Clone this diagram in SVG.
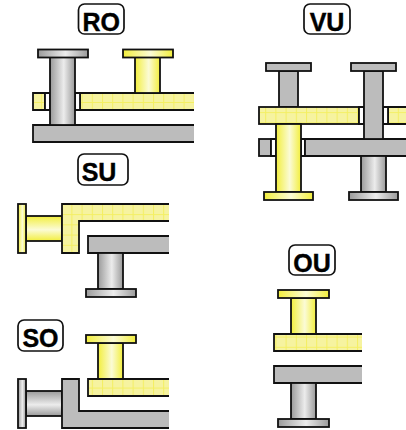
<svg xmlns="http://www.w3.org/2000/svg" width="406" height="430" viewBox="0 0 406 430">
<style>
text{font-family:"Liberation Sans",Arial,sans-serif;font-weight:700;font-size:25px;fill:#000;stroke:#000;stroke-width:.4;text-anchor:middle}
.l{fill:#fff;stroke:#111;stroke-width:1.7}
.s{stroke:#111;stroke-width:1.8}
.g{fill:#bcbcbc}
.gh{fill:url(#gh)}
.gv{fill:url(#gv)}
.yh{fill:url(#yh)}
.yv{fill:url(#yv)}
.p{fill:url(#hatch)}
.w{fill:#fff}
</style>
<defs>
<linearGradient id="gh"><stop offset="0" stop-color="#9a9a9a"/><stop offset=".55" stop-color="#ececec"/><stop offset="1" stop-color="#9a9a9a"/></linearGradient>
<linearGradient id="gv" x2="0" y2="1"><stop offset="0" stop-color="#9a9a9a"/><stop offset=".55" stop-color="#ececec"/><stop offset="1" stop-color="#9a9a9a"/></linearGradient>
<linearGradient id="yh"><stop offset="0" stop-color="#f2ee3c"/><stop offset=".55" stop-color="#fbfbd6"/><stop offset="1" stop-color="#f2ee3c"/></linearGradient>
<linearGradient id="yv" x2="0" y2="1"><stop offset="0" stop-color="#f2ee3c"/><stop offset=".55" stop-color="#fbfbd6"/><stop offset="1" stop-color="#f2ee3c"/></linearGradient>
<pattern id="hatch" width="10.200" height="10.200" patternUnits="userSpaceOnUse"><rect width="10.200" height="10.200" fill="#f6f3a0"/><path d="M0 .5H10.200M.5 0V10.200" stroke="#f4ef62" stroke-width="1"/></pattern>
</defs>

<g id="RO">
<rect class="l" x="78.500" y="4" width="45.500" height="30" rx="6"/><text x="101.300" y="31">RO</text>
<path class="s g" d="M194 125H33V142H194"/>
<path class="s p" d="M194 93H80V110H194M33 93H45V110H33Z"/>
<path class="s w" d="M45 93H50V110H45ZM75 93H80V110H75Z"/>
<rect class="s gh" x="50" y="57" width="25" height="68"/>
<rect class="s gh" x="38" y="49.500" width="50" height="8"/>
<rect class="s yh" x="135" y="57" width="25" height="36"/>
<rect class="s yh" x="123" y="49.500" width="50" height="8"/>
</g>

<g id="VU">
<rect class="l" x="304" y="4" width="46" height="30" rx="6"/><text x="327" y="31">VU</text>
<rect class="s g" x="279" y="71" width="19" height="36"/>
<rect class="s g" x="266" y="63" width="45" height="8"/>
<rect class="s p" x="259" y="107" width="100" height="17"/>
<path class="s p" d="M406 107H388V124H406"/>
<path class="s w" d="M359 107H364V124H359ZM383 107H388V124H383Z"/>
<rect class="s g" x="259" y="139" width="12" height="17"/>
<path class="s w" d="M271 139H276V156H271ZM301 139H305V156H301Z"/>
<path class="s g" d="M406 139H305V156H406"/>
<rect class="s g" x="364" y="71" width="19" height="68"/>
<rect class="s g" x="351" y="63" width="45" height="8"/>
<rect class="s yh" x="276" y="124" width="25" height="68"/>
<rect class="s yh" x="264" y="192" width="49" height="8"/>
<rect class="s gh" x="361" y="156" width="25" height="36"/>
<rect class="s gh" x="349" y="192" width="49" height="8"/>
</g>

<g id="SU">
<rect class="l" x="78" y="154" width="50" height="31" rx="6"/><text x="99" y="181">SU</text>
<rect class="s yv" x="26" y="216" width="36" height="25"/>
<rect class="s yh" x="18" y="204" width="8" height="49"/>
<path class="s p" d="M169 204H62V253H79V221H169"/>
<path class="s g" d="M169 236H88V253H169"/>
<rect class="s gh" x="98" y="253" width="25" height="36"/>
<rect class="s gh" x="86" y="289" width="50" height="8"/>
</g>

<g id="SO">
<rect class="l" x="18" y="320" width="45" height="31" rx="6"/><text x="40.500" y="347">SO</text>
<rect class="s yh" x="98" y="343" width="25" height="36"/>
<rect class="s yh" x="86" y="335" width="50" height="8"/>
<path class="s p" d="M169 379H88V396H169"/>
<rect class="s gv" x="26" y="391" width="36" height="25"/>
<rect class="s gh" x="18" y="379" width="8" height="49"/>
<path class="s g" d="M169 411H79V379H62V428H169"/>
</g>

<g id="OU">
<rect class="l" x="289" y="245" width="46" height="30" rx="6"/><text x="312" y="272">OU</text>
<rect class="s yh" x="291" y="298" width="25" height="36"/>
<rect class="s yh" x="278" y="290" width="51" height="8"/>
<path class="s p" d="M362 334H274V351H362"/>
<path class="s g" d="M362 366H274V383H362"/>
<rect class="s gh" x="291" y="383" width="25" height="36"/>
<rect class="s gh" x="278" y="419" width="51" height="8"/>
</g>
</svg>
